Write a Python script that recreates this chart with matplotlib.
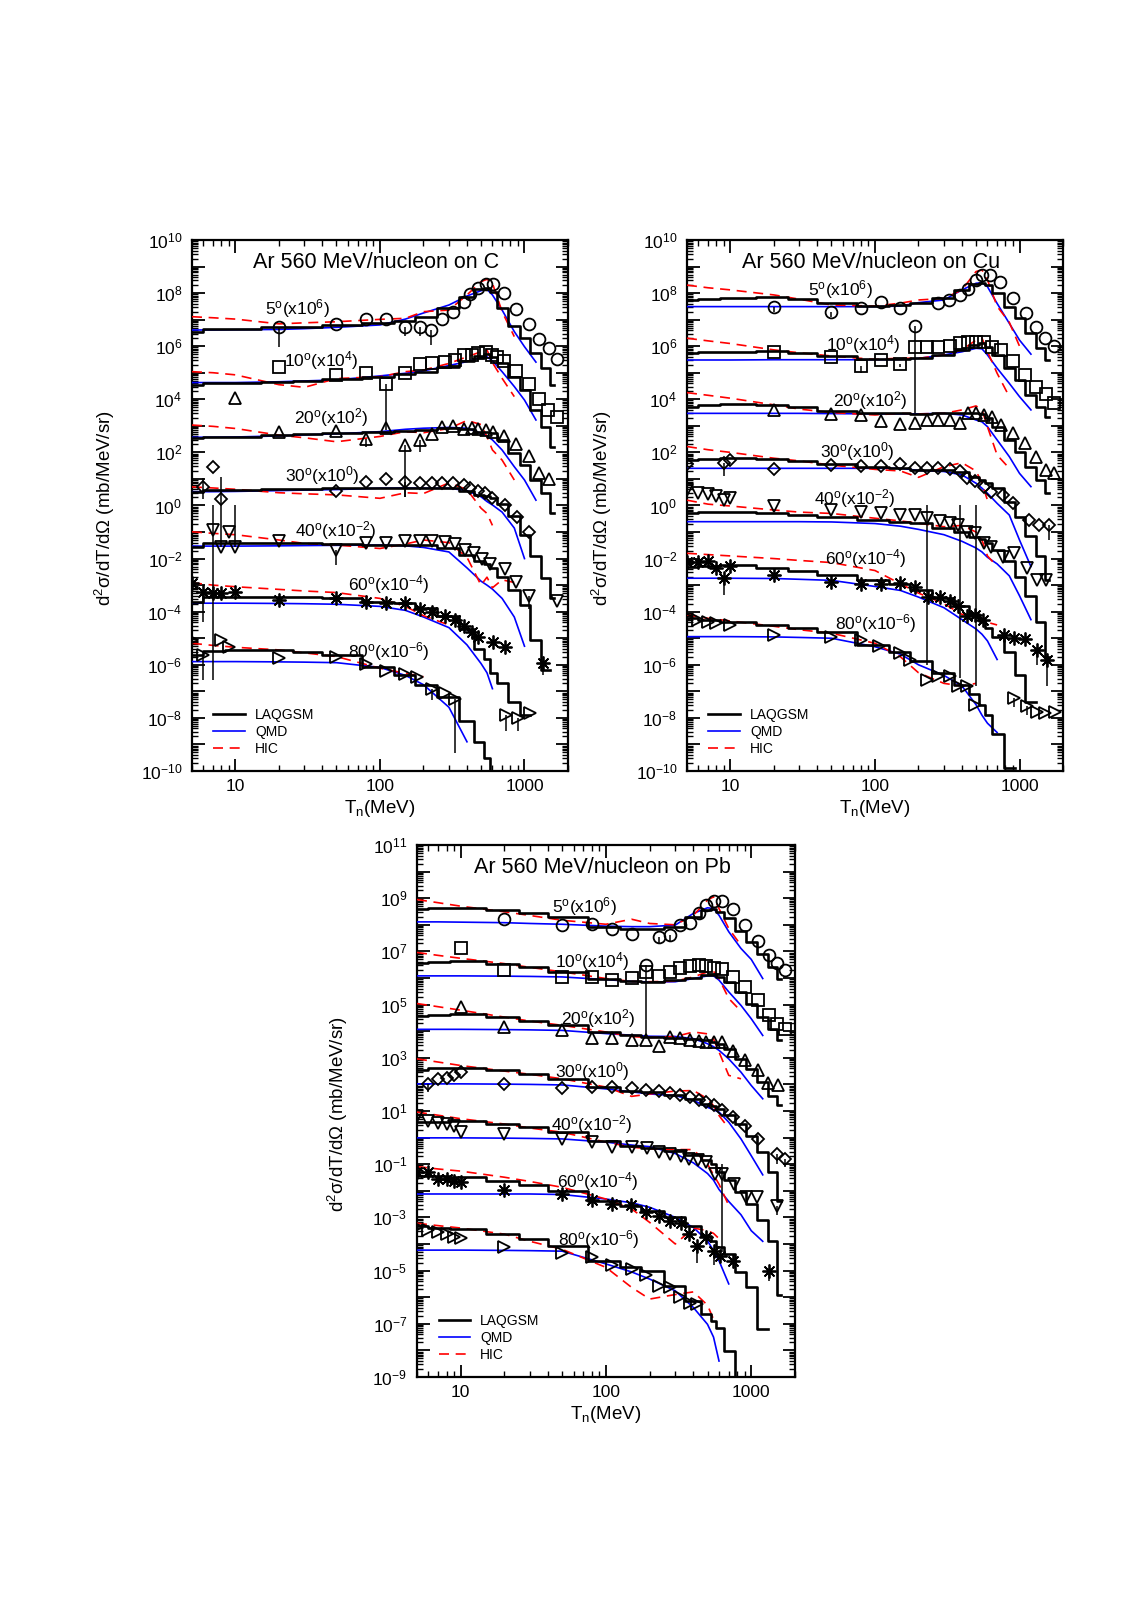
import numpy as np
import matplotlib
matplotlib.use('Agg')
import matplotlib.pyplot as plt
from matplotlib.ticker import FixedLocator, FuncFormatter, NullFormatter
from matplotlib.lines import Line2D

plt.rcParams['font.family'] = ['Liberation Sans', 'DejaVu Sans']
plt.rcParams['mathtext.fontset'] = 'custom'
plt.rcParams['mathtext.rm'] = 'Liberation Sans'
plt.rcParams['mathtext.it'] = 'Liberation Sans:italic'
plt.rcParams['mathtext.bf'] = 'Liberation Sans:bold'

nan = np.nan

# neutron energy grid (MeV) of the model curves
T_GRID = [5, 7, 10, 20, 30, 50, 100, 150, 200, 300, 400, 500, 550, 600, 700, 850, 1000, 1200, 1400, 1600]
ANGLES = [5, 10, 20, 30, 40, 60, 80]
FACTORS = [6, 4, 2, 0, -2, -4, -6]

# all cross sections are log10 of the scaled d2sigma/dT/dOmega,
# one row per angle (5, 10, 20, 30, 40, 60, 80 deg)

# ---- Ar + C ----
c_laq = [
    [6.55, 6.63, 6.65, 6.71, 6.74, 6.80, 6.89, 6.95, 7.09, 7.43, 7.87, 8.14, 8.20, 8.05, 7.43, 6.76, 6.30, 5.73, 5.17, 4.54],
    [4.54, 4.63, 4.63, 4.66, 4.70, 4.75, 4.85, 4.95, 5.04, 5.23, 5.45, 5.63, 5.69, 5.60, 5.35, 4.85, 4.35, 3.60, 2.97, 2.20],
    [2.53, 2.59, 2.59, 2.65, 2.68, 2.72, 2.75, 2.82, 2.84, 2.91, 2.87, 2.78, 2.75, 2.72, 2.47, 1.96, 1.53, 0.96, 0.46, -0.30],
    [0.52, 0.58, 0.58, 0.61, 0.63, 0.65, 0.65, 0.65, 0.65, 0.65, 0.56, 0.40, 0.35, 0.30, 0.05, -0.40, -1.10, -1.90, -2.75, -3.50],
    [-1.55, -1.43, -1.43, -1.40, -1.42, -1.45, -1.49, -1.49, -1.49, -1.61, -1.85, -2.10, -2.20, -2.37, -2.68, -3.18, -3.75, -5.07, -6.20, nan],
    [-3.62, -3.46, -3.43, -3.43, -3.46, -3.50, -3.62, -3.68, -3.87, -4.18, -4.65, -5.40, -5.80, -6.30, -6.70, -7.40, -7.90, nan, nan, nan],
    [-5.63, -5.47, -5.44, -5.46, -5.52, -5.63, -6.07, -6.38, -6.76, -7.20, -8.10, -8.90, -9.50, -10.0, nan, nan, nan, nan, nan, nan],
]
c_qmd = [
    [6.61, 6.61, 6.62, 6.63, 6.66, 6.71, 6.80, 7.02, 7.25, 7.55, 7.89, 8.09, 8.14, 7.93, 7.36, 6.55, 5.98, 5.40, nan, nan],
    [4.63, 4.63, 4.63, 4.66, 4.69, 4.73, 4.88, 4.98, 5.07, 5.27, 5.42, 5.58, 5.60, 5.45, 5.04, 4.48, 3.97, 3.22, nan, nan],
    [2.57, 2.57, 2.58, 2.62, 2.66, 2.70, 2.78, 2.87, 2.91, 2.94, 2.91, 2.72, 2.62, 2.47, 2.09, 1.46, 0.96, 0.20, nan, nan],
    [0.52, 0.52, 0.53, 0.56, 0.58, 0.60, 0.65, 0.66, 0.65, 0.65, 0.56, 0.33, 0.15, 0.02, -0.25, -0.85, -2.00, nan, nan, nan],
    [-1.53, -1.53, -1.53, -1.52, -1.51, -1.50, -1.49, -1.52, -1.58, -1.75, -2.35, -2.85, -3.00, -3.15, -3.50, -4.20, -5.30, nan, nan, nan],
    [-3.68, -3.68, -3.68, -3.69, -3.70, -3.72, -3.80, -3.95, -4.20, -4.60, -5.25, -5.95, -6.30, -6.90, nan, nan, nan, nan, nan, nan],
    [-5.88, -5.88, -5.88, -5.89, -5.90, -5.92, -6.10, -6.40, -6.75, -7.60, -8.90, nan, nan, nan, nan, nan, nan, nan, nan, nan],
]
c_hic = [
    [7.11, 7.07, 7.02, 6.84, 6.88, 6.92, 7.01, 7.05, 7.30, 7.36, 7.93, 8.43, 8.52, 8.37, 7.30, 6.36, nan, nan, nan, nan],
    [5.04, 5.00, 4.92, 4.55, 4.45, 4.78, 4.85, 5.04, 5.10, 5.35, 5.60, 5.79, 5.86, 5.38, 4.79, 4.10, nan, nan, nan, nan],
    [3.03, 2.98, 2.90, 2.65, 2.55, 2.40, 2.60, 2.78, 2.74, 2.90, 3.20, 3.05, 2.59, 2.09, 1.71, 0.96, nan, nan, nan, nan],
    [0.70, 0.66, 0.61, 0.48, 0.44, 0.40, 0.27, 0.48, 0.45, 0.85, 0.60, -0.10, -0.30, -0.75, nan, nan, nan, nan, nan, nan],
    [-0.99, -1.05, -1.10, -1.30, -1.43, -1.49, -1.62, -1.45, -1.30, -1.40, -1.95, -3.00, -2.70, -3.10, -2.80, -2.90, nan, nan, nan, nan],
    [-2.91, -3.00, -3.06, -3.16, -3.22, -3.28, -3.50, -3.80, -4.15, -4.50, nan, nan, nan, nan, nan, nan, nan, nan, nan, nan],
    [-5.19, -5.27, -5.34, -5.44, -5.55, -5.69, -6.13, -6.32, -6.45, nan, nan, nan, nan, nan, nan, nan, nan, nan, nan, nan],
]
c_exp_t = [
    [20, 50, 80, 110, 150, 190, 225, 270, 320, 380, 420, 480, 540, 610, 720, 880, 1080, 1270, 1470, 1670],
    [20, 50, 80, 110, 150, 190, 230, 280, 330, 380, 430, 480, 540, 600, 650, 720, 880, 1080, 1270, 1450, 1670],
    [10, 20, 50, 80, 110, 150, 190, 230, 270, 320, 380, 430, 480, 540, 610, 720, 870, 1070, 1270, 1470],
    [6, 7, 8, 50, 80, 110, 150, 190, 230, 270, 320, 380, 420, 480, 530, 600, 730, 890, 1080],
    [7, 8, 9, 10, 20, 50, 80, 110, 150, 190, 230, 280, 330, 390, 450, 510, 580, 730, 880, 1080, 1670],
    [5, 6, 7, 8, 10, 20, 50, 80, 110, 150, 190, 230, 280, 330, 380, 430, 480, 610, 730, 1350],
    [5, 6, 8, 9, 20, 50, 80, 110, 150, 180, 230, 280, 330, 740, 905, 1100],
]
c_exp_v = [
    [6.73, 6.83, 7.04, 7.04, 6.71, 6.71, 6.61, 7.02, 7.28, 7.68, 7.95, 8.20, 8.34, 8.34, 8.00, 7.40, 6.82, 6.27, 5.94, 5.53],
    [5.23, 4.92, 5.00, 4.58, 5.00, 5.33, 5.35, 5.42, 5.49, 5.67, 5.67, 5.73, 5.79, 5.67, 5.60, 5.45, 5.08, 4.58, 4.01, 3.60, 3.35],
    [4.04, 2.78, 2.82, 2.49, 2.90, 2.28, 2.47, 2.70, 2.94, 3.00, 2.87, 2.90, 2.87, 2.84, 2.78, 2.62, 2.31, 1.86, 1.21, 0.98],
    [0.71, 1.44, 0.26, 0.56, 0.90, 0.99, 0.90, 0.84, 0.84, 0.86, 0.84, 0.77, 0.65, 0.56, 0.46, 0.27, 0.02, -0.42, -1.01],
    [-0.92, -1.58, -1.00, -1.58, -1.33, -1.68, -1.40, -1.40, -1.33, -1.33, -1.35, -1.36, -1.44, -1.67, -1.80, -2.03, -2.20, -2.40, -2.90, -3.40, -3.60],
    [-2.91, -3.25, -3.31, -3.28, -3.25, -3.56, -3.50, -3.62, -3.66, -3.68, -3.91, -4.02, -4.18, -4.31, -4.53, -4.75, -4.94, -5.13, -5.32, -5.94],
    [-5.06, -5.63, -5.06, -5.34, -5.76, -5.69, -5.97, -6.22, -6.35, -6.47, -6.92, -7.08, -7.27, -7.90, -8.00, -7.80],
]
# error bars: energy, log10 low, log10 high
c_err = [(20, 5.98, 6.73), (150, 6.40, 6.71), (190, 6.40, 6.71), (225, 6.05, 6.61), (110, 2.84, 4.58),
         (80, 2.20, 2.49), (150, 0.33, 2.28), (190, 2.00, 2.47), (6, 0.25, 1.05), (7, -6.57, 0.02),
         (8, -1.55, 1.09), (10, -1.55, 0.02), (150, 0.33, 0.90), (50, -2.24, -1.68), (1080, -3.90, -3.40),
         (6, -4.38, -3.25), (1350, -6.38, -5.94), (6, -6.57, -5.63), (230, -7.33, -6.92), (330, -9.34, -7.27),
         (740, -8.50, -7.90), (905, -8.50, -8.00)]

# ---- Ar + Cu ----
cu_laq = [
    [7.74, 7.78, 7.80, 7.84, 7.78, 7.61, 7.51, 7.55, 7.62, 7.80, 8.12, 8.34, 8.39, 8.30, 7.99, 7.49, 7.05, 6.48, 5.92, 5.48],
    [5.73, 5.77, 5.79, 5.80, 5.76, 5.63, 5.50, 5.50, 5.54, 5.67, 5.86, 6.05, 6.11, 5.98, 5.67, 5.17, 4.73, 4.16, 3.72, 3.35],
    [3.72, 3.78, 3.81, 3.80, 3.72, 3.56, 3.47, 3.47, 3.45, 3.47, 3.50, 3.47, 3.45, 3.28, 2.97, 2.47, 2.03, 1.46, 0.96, 0.46],
    [1.71, 1.75, 1.78, 1.76, 1.68, 1.55, 1.46, 1.42, 1.34, 1.34, 1.27, 1.09, 0.95, 0.84, 0.65, 0.14, -0.45, -1.15, -1.90, -2.80],
    [-0.30, -0.25, -0.23, -0.27, -0.36, -0.45, -0.55, -0.61, -0.67, -0.86, -1.00, -1.17, -1.28, -1.42, -1.68, -2.10, -2.70, -3.40, -4.40, -5.70],
    [-2.30, -2.27, -2.24, -2.35, -2.45, -2.60, -2.82, -2.95, -3.17, -3.50, -3.78, -4.10, -4.35, -4.60, -4.95, -5.50, -6.40, -7.40, nan, nan],
    [-4.25, -4.32, -4.38, -4.50, -4.60, -4.75, -5.25, -5.50, -5.85, -6.30, -6.75, -7.10, -7.50, -7.90, -8.60, -9.90, nan, nan, nan, nan],
]
cu_qmd = [
    [7.49, 7.49, 7.49, 7.49, 7.49, 7.49, 7.49, 7.51, 7.64, 7.74, 8.12, 8.37, 8.39, 8.24, 7.61, 6.86, 6.23, 5.70, nan, nan],
    [5.48, 5.48, 5.48, 5.49, 5.49, 5.49, 5.49, 5.50, 5.54, 5.67, 5.79, 5.92, 5.90, 5.67, 5.17, 4.60, 4.10, 3.60, nan, nan],
    [3.47, 3.47, 3.47, 3.47, 3.47, 3.46, 3.45, 3.45, 3.45, 3.47, 3.41, 3.22, 3.15, 2.97, 2.47, 1.84, 1.21, 0.71, nan, nan],
    [1.40, 1.40, 1.40, 1.40, 1.40, 1.40, 1.40, 1.40, 1.32, 1.28, 1.15, 0.84, 0.65, 0.46, 0.08, -0.36, -1.30, -2.30, nan, nan],
    [-0.61, -0.61, -0.61, -0.61, -0.61, -0.62, -0.68, -0.78, -0.90, -1.10, -1.35, -1.60, -1.75, -1.95, -2.20, -2.65, -3.40, -4.30, nan, nan],
    [-2.74, -2.74, -2.74, -2.75, -2.78, -2.82, -3.05, -3.20, -3.45, -3.85, -4.30, -4.65, -4.85, -5.10, -5.80, nan, nan, nan, nan, nan],
    [-4.94, -4.94, -4.94, -4.95, -4.97, -5.00, -5.32, -5.60, -6.00, -6.40, -6.80, -7.50, -7.90, -8.20, -8.55, nan, nan, nan, nan, nan],
]
cu_hic = [
    [8.30, 8.20, 8.12, 7.93, 7.77, 7.55, 7.51, 7.62, 7.74, 7.80, 8.12, 8.81, 8.87, 8.50, 7.50, 6.90, 6.00, nan, nan, nan],
    [6.30, 6.20, 6.10, 5.86, 5.75, 5.63, 5.50, 5.55, 5.54, 5.67, 5.86, 6.23, 6.30, 5.80, 4.98, 4.10, nan, nan, nan, nan],
    [4.25, 4.15, 4.04, 3.79, 3.63, 3.50, 3.41, 3.47, 3.45, 3.47, 3.60, 3.75, 3.60, 2.97, 1.90, 1.40, nan, nan, nan, nan],
    [2.22, 2.10, 2.00, 1.78, 1.68, 1.52, 1.36, 1.30, 1.06, 1.46, 1.61, 1.30, 0.85, 0.20, nan, nan, nan, nan, nan, nan],
    [0.20, 0.05, -0.02, -0.17, -0.25, -0.30, -0.48, -0.58, -0.67, -0.80, -0.75, -1.00, -1.30, -1.90, -2.30, nan, nan, nan, nan, nan],
    [-1.80, -1.85, -1.90, -2.00, -2.07, -2.15, -2.45, -2.95, -3.30, -3.70, -4.10, -4.20, -4.25, -4.40, -4.50, nan, nan, nan, nan, nan],
    [-4.12, -4.25, -4.35, -4.55, -4.68, -4.81, -5.19, -5.70, -6.30, -6.70, -6.80, -6.70, nan, nan, nan, nan, nan, nan, nan, nan],
]
cu_exp_t = [
    [20, 50, 80, 110, 150, 190, 275, 325, 385, 440, 500, 550, 625, 735, 900, 1110, 1310, 1500, 1720],
    [20, 50, 80, 110, 150, 190, 230, 275, 330, 385, 440, 500, 570, 650, 740, 900, 1100, 1310, 1530, 1740],
    [20, 50, 80, 110, 150, 190, 230, 275, 330, 385, 440, 500, 570, 650, 740, 900, 1100, 1310, 1530, 1740],
    [5, 9, 10, 20, 50, 80, 110, 150, 190, 230, 275, 330, 385, 435, 495, 565, 635, 770, 900, 1160, 1370, 1600],
    [5, 6, 7, 8, 9, 10, 20, 50, 80, 110, 150, 190, 230, 280, 330, 375, 430, 490, 570, 630, 770, 920, 1120, 1320, 1530],
    [5, 6, 7, 8, 9, 10, 20, 50, 80, 110, 148, 188, 232, 280, 330, 375, 430, 490, 560, 780, 920, 1100, 1320, 1550],
    [5, 6, 7, 8, 10, 20, 50, 80, 106, 148, 174, 228, 274, 330, 375, 430, 490, 920, 1120, 1320, 1500, 1750],
]
cu_exp_v = [
    [7.46, 7.28, 7.43, 7.65, 7.43, 6.76, 7.64, 7.74, 7.93, 8.14, 8.49, 8.68, 8.68, 8.43, 7.80, 7.26, 6.71, 6.30, 6.00],
    [5.79, 5.60, 5.25, 5.48, 5.33, 5.96, 5.96, 5.96, 6.00, 6.11, 6.15, 6.17, 6.15, 5.98, 5.86, 5.45, 4.92, 4.48, 4.19, 3.85],
    [3.60, 3.44, 3.39, 3.17, 3.06, 3.09, 3.22, 3.22, 3.22, 3.09, 3.47, 3.47, 3.41, 3.35, 3.03, 2.72, 2.37, 1.81, 1.34, 1.21],
    [1.56, 1.59, 1.71, 1.36, 1.52, 1.48, 1.50, 1.56, 1.40, 1.42, 1.40, 1.36, 1.28, 1.05, 0.92, 0.71, 0.52, 0.40, 0.10, -0.55, -0.73, -0.73],
    [0.58, 0.46, 0.43, 0.36, 0.20, 0.27, -0.02, -0.17, -0.23, -0.30, -0.34, -0.36, -0.48, -0.60, -0.67, -0.73, -1.01, -1.05, -1.42, -1.55, -1.93, -1.80, -2.37, -2.81, -2.81],
    [-2.12, -2.12, -2.10, -2.36, -2.74, -2.27, -2.61, -2.90, -2.95, -2.95, -2.93, -3.08, -3.43, -3.45, -3.61, -3.78, -4.18, -4.11, -4.30, -4.87, -5.00, -5.03, -5.44, -5.82],
    [-4.19, -4.30, -4.38, -4.44, -4.50, -4.88, -4.94, -5.06, -5.29, -5.56, -5.81, -6.56, -6.43, -6.43, -6.81, -6.81, -7.50, -7.26, -7.55, -7.76, -7.80, -7.76],
]
cu_err = [(20, 7.30, 7.46), (50, 7.10, 7.28), (190, 3.47, 6.76), (80, 5.00, 5.25), (150, 5.20, 5.33),
          (9, 1.10, 1.59), (230, -6.00, 0.00), (390, -6.50, 0.00), (500, -6.80, 0.00), (9, -3.36, -2.74),
          (1550, -6.80, -5.82), (1320, -6.00, -5.44), (920, -7.60, -7.26), (1120, -7.90, -7.55), (1600, -1.30, -0.73)]

# ---- Ar + Pb ----
pb_laq = [
    [8.59, 8.62, 8.65, 8.55, 8.45, 8.28, 7.92, 7.84, 7.84, 7.92, 8.30, 8.55, 8.61, 8.49, 8.24, 7.76, 7.36, 6.92, 6.42, 5.98],
    [6.57, 6.60, 6.64, 6.54, 6.42, 6.23, 5.98, 5.89, 5.85, 5.91, 6.00, 6.10, 6.12, 6.04, 5.85, 5.48, 5.04, 4.53, 4.09, 3.66],
    [4.57, 4.62, 4.66, 4.53, 4.40, 4.22, 3.97, 3.85, 3.78, 3.74, 3.72, 3.66, 3.60, 3.53, 3.32, 2.96, 2.59, 2.09, 1.58, 1.21],
    [2.56, 2.60, 2.63, 2.53, 2.40, 2.21, 1.92, 1.77, 1.71, 1.61, 1.46, 1.27, 1.18, 1.08, 0.85, 0.50, 0.05, -0.55, -1.30, -2.40],
    [0.58, 0.60, 0.62, 0.51, 0.38, 0.20, -0.11, -0.30, -0.38, -0.50, -0.65, -0.85, -1.00, -1.30, -1.60, -2.05, -2.50, -3.10, -3.90, -5.90],
    [-1.43, -1.46, -1.49, -1.62, -1.78, -2.00, -2.37, -2.56, -2.75, -3.00, -3.31, -3.69, -3.90, -4.13, -4.38, -5.05, -5.63, -7.20, nan, nan],
    [-3.31, -3.38, -3.44, -3.63, -3.80, -4.07, -4.63, -4.86, -5.01, -5.57, -6.14, -6.64, -6.90, -7.14, -8.02, -9.00, nan, nan, nan, nan],
]
pb_qmd = [
    [8.11, 8.11, 8.10, 8.08, 8.05, 8.02, 7.95, 7.93, 7.93, 7.99, 8.43, 8.64, 8.61, 8.36, 7.74, 7.11, 6.70, 5.98, nan, nan],
    [6.08, 6.08, 6.08, 6.07, 6.06, 6.04, 5.94, 5.87, 5.85, 5.86, 5.98, 6.08, 6.08, 5.92, 5.48, 4.97, 4.47, 3.84, nan, nan],
    [4.07, 4.07, 4.07, 4.06, 4.05, 4.03, 3.91, 3.85, 3.81, 3.80, 3.72, 3.53, 3.42, 3.28, 2.96, 2.46, 1.96, 1.46, nan, nan],
    [2.02, 2.02, 2.02, 2.01, 2.00, 1.98, 1.83, 1.72, 1.64, 1.58, 1.40, 1.14, 1.05, 0.96, 0.58, -0.05, -0.68, -1.40, nan, nan],
    [-0.01, -0.01, -0.01, -0.02, -0.03, -0.05, -0.17, -0.28, -0.34, -0.60, -0.95, -1.35, -1.60, -1.95, -2.40, -2.90, -3.50, -3.90, nan, nan],
    [-2.12, -2.12, -2.12, -2.12, -2.12, -2.14, -2.31, -2.45, -2.62, -3.00, -3.38, -3.88, -4.25, -4.63, -5.50, nan, nan, nan, nan, nan],
    [-4.23, -4.23, -4.23, -4.24, -4.25, -4.27, -4.75, -5.05, -5.32, -5.76, -6.39, -7.02, -7.50, -8.40, nan, nan, nan, nan, nan, nan],
]
pb_hic = [
    [8.95, 8.83, 8.70, 8.49, 8.35, 8.17, 8.02, 8.21, 8.05, 8.00, 8.36, 8.93, 9.05, 8.61, 7.86, 7.23, nan, nan, nan, nan],
    [6.96, 6.85, 6.74, 6.54, 6.40, 6.23, 5.98, 5.87, 5.86, 5.88, 6.04, 6.23, 6.25, 5.98, 5.23, 4.75, nan, nan, nan, nan],
    [5.04, 4.92, 4.79, 4.53, 4.38, 4.22, 3.97, 3.80, 3.76, 3.80, 3.97, 3.90, 3.70, 3.22, 2.34, 2.21, nan, nan, nan, nan],
    [2.96, 2.84, 2.71, 2.50, 2.38, 2.21, 1.90, 1.55, 1.64, 1.75, 1.77, 1.46, 1.20, 0.83, 0.35, nan, nan, nan, nan, nan],
    [0.96, 0.84, 0.71, 0.51, 0.36, 0.20, -0.17, -0.36, -0.42, -0.45, -0.45, -1.00, -1.40, -1.75, -2.55, nan, nan, nan, nan, nan],
    [-1.09, -1.18, -1.26, -1.49, -1.65, -1.87, -2.31, -2.68, -3.19, -4.00, -3.40, -3.50, -3.60, -3.80, nan, nan, nan, nan, nan, nan],
    [-3.22, -3.31, -3.40, -3.63, -3.90, -4.20, -4.88, -5.63, -6.07, -5.90, -5.80, -6.30, -6.83, nan, nan, nan, nan, nan, nan, nan],
]
pb_exp_t = [
    [20, 50, 80, 110, 150, 190, 230, 277, 324, 377, 435, 491, 552, 630, 750, 903, 1110, 1325, 1513, 1700],
    [10, 20, 50, 80, 110, 150, 190, 230, 277, 324, 377, 435, 491, 552, 630, 750, 903, 1110, 1325, 1513, 1700],
    [10, 20, 50, 80, 110, 150, 190, 230, 277, 324, 377, 435, 491, 552, 630, 750, 903, 1110, 1310, 1530],
    [6, 7, 8, 9, 10, 20, 50, 80, 110, 150, 190, 230, 277, 324, 377, 435, 491, 552, 630, 750, 903, 1110, 1513, 1700],
    [5, 6, 7, 8, 9, 10, 20, 50, 80, 110, 150, 191, 232, 277, 330, 375, 430, 490, 560, 630, 760, 915, 1100, 1510],
    [5, 6, 7, 8, 9, 10, 20, 50, 80, 110, 148, 188, 232, 277, 330, 375, 425, 490, 550, 614, 750, 1330],
    [5, 6, 7, 8, 9, 10, 20, 50, 80, 110, 150, 190, 230, 277, 324, 377, 420],
]
pb_exp_v = [
    [8.21, 7.99, 8.02, 7.84, 7.67, 6.48, 7.55, 7.61, 7.99, 8.05, 8.43, 8.74, 8.89, 8.89, 8.59, 7.99, 7.40, 6.88, 6.58, 6.29],
    [7.11, 6.30, 6.04, 6.04, 5.92, 6.00, 6.23, 6.07, 6.23, 6.38, 6.44, 6.48, 6.44, 6.38, 6.35, 6.04, 5.66, 5.19, 4.62, 4.26, 4.07],
    [4.91, 4.16, 4.06, 3.76, 3.76, 3.66, 3.66, 3.43, 3.80, 3.74, 3.66, 3.62, 3.60, 3.60, 3.60, 3.25, 2.90, 2.56, 2.06, 1.96],
    [2.02, 2.21, 2.25, 2.36, 2.46, 2.02, 1.87, 1.90, 1.92, 1.87, 1.80, 1.77, 1.67, 1.62, 1.52, 1.42, 1.33, 1.21, 1.02, 0.79, 0.45, -0.05, -0.62, -0.80],
    [0.83, 0.64, 0.54, 0.51, 0.45, 0.20, 0.14, -0.05, -0.17, -0.36, -0.36, -0.40, -0.55, -0.62, -0.68, -0.81, -0.84, -0.91, -1.38, -1.38, -1.75, -2.25, -2.25, -2.56],
    [-1.30, -1.30, -1.55, -1.55, -1.62, -1.68, -1.97, -2.12, -2.35, -2.48, -2.53, -2.81, -2.96, -3.12, -3.21, -3.63, -4.07, -3.73, -4.26, -4.45, -4.64, -5.00],
    [-3.37, -3.47, -3.56, -3.63, -3.73, -3.78, -4.10, -4.32, -4.48, -4.78, -4.94, -5.16, -5.57, -5.63, -6.01, -6.20, -6.26],
]
pb_err = [(230, 7.30, 7.55), (277, 7.35, 7.61), (190, 3.82, 6.48), (6, 1.70, 2.02), (1513, -1.00, -0.62),
          (1700, -1.10, -0.80), (1510, -2.90, -2.56), (630, -4.30, -1.00), (425, -4.70, -4.07),
          (550, -4.80, -4.26), (1330, -5.40, -5.00)]

# angle-label anchor points (energy, log10 value)
c_lab_t = [26.7, 39, 46, 40, 49.5, 115, 115]
c_lab_v = [7.4, 5.44, 3.33, 1.11, -0.96, -2.96, -5.52]
cu_lab_t = [58, 83, 93, 75, 72, 86, 102]
cu_lab_v = [8.12, 6.08, 3.94, 2.05, 0.28, -2.0, -4.46]
pb_lab_t = [71, 80, 89, 80, 80, 88, 90]
pb_lab_v = [8.7, 6.63, 4.48, 2.49, 0.49, -1.66, -3.84]

MARKERS = ['o', 's', '^', 'D', 'v', (8, 2, 0), '>']
MSIZES = [8.5, 8, 8.5, 6.5, 8.5, 10, 8.5]


def draw_panel(ax, laq, qmd, hic, exp_t, exp_v, err, lab_t, lab_v, target, ylo, yhi, ypos):
    for i in range(len(ANGLES)):
        ax.plot(T_GRID, 10.0 ** np.array(laq[i]), color='black', lw=1.9, drawstyle='steps-mid', zorder=4)
        ax.plot(T_GRID, 10.0 ** np.array(qmd[i]), color='#0000ff', lw=1.2, zorder=3)
        ax.plot(T_GRID, 10.0 ** np.array(hic[i]), color='#ff0000', lw=1.2, ls=(0, (6, 4)), zorder=3)
        ax.plot(exp_t[i], 10.0 ** np.array(exp_v[i]), ls='none', marker=MARKERS[i], ms=MSIZES[i],
                mfc='none', mec='black', mew=1.3, zorder=5)
        txt = r'%d$^{\rm o}$(x10$^{%d}$)' % (ANGLES[i], FACTORS[i])
        ax.text(lab_t[i], 10.0 ** lab_v[i], txt, fontsize=12.5, ha='center', va='center', zorder=6)
    for t, lo, hi in err:
        ax.vlines(t, 10.0 ** lo, 10.0 ** hi, color='black', lw=1.1, zorder=4)

    ax.set_xscale('log')
    ax.set_yscale('log')
    ax.set_xlim(5, 2000)
    ax.set_ylim(10.0 ** ylo, 10.0 ** yhi)

    ax.xaxis.set_major_locator(FixedLocator([10, 100, 1000]))
    ax.xaxis.set_major_formatter(FuncFormatter(lambda v, p: '%d' % v))
    ax.xaxis.set_minor_locator(FixedLocator([m * 10.0 ** k for k in range(0, 4) for m in range(2, 10)]))
    ax.xaxis.set_minor_formatter(NullFormatter())

    ax.yaxis.set_major_locator(FixedLocator([10.0 ** k for k in range(ylo, yhi + 1)]))
    ax.yaxis.set_minor_locator(FixedLocator([m * 10.0 ** k for k in range(ylo, yhi) for m in range(2, 10)]))
    ax.yaxis.set_minor_formatter(NullFormatter())

    def yfmt(v, p):
        k = int(round(np.log10(v)))
        return r'$10^{%d}$' % k if (k - ylo) % 2 == 0 else ''
    ax.yaxis.set_major_formatter(FuncFormatter(yfmt))

    ax.tick_params(which='both', direction='in', top=True, right=True, labelsize=12.5)
    ax.tick_params(which='major', length=9, width=1.3)
    ax.tick_params(which='minor', length=4.5, width=1.0)
    ax.tick_params(axis='y', pad=7)
    ax.tick_params(axis='x', pad=6)
    for s in ax.spines.values():
        s.set_linewidth(1.6)

    ax.text(0.49, 0.958, 'Ar 560 MeV/nucleon on ' + target, transform=ax.transAxes,
            ha='center', va='center', fontsize=15.5)
    ax.set_xlabel(r'T$_{\rm n}$(MeV)', fontsize=13.5, labelpad=3)
    ax.set_ylabel('d$^{2}$σ/dT/dΩ (mb/MeV/sr)', fontsize=13.5)
    ax.yaxis.set_label_coords(ypos, 0.495)

    handles = [Line2D([], [], color='black', lw=1.9),
               Line2D([], [], color='#0000ff', lw=1.2),
               Line2D([], [], color='#ff0000', lw=1.2, ls=(0, (6, 4)))]
    ax.legend(handles, ['LAQGSM', 'QMD', 'HIC'], loc='lower left', bbox_to_anchor=(0.035, 0.012),
              frameon=False, fontsize=10, handlelength=2.3, handletextpad=0.7,
              labelspacing=0.22, borderaxespad=0.2)


fig = plt.figure(figsize=(11.44, 16.16), dpi=100)
ax_c = fig.add_axes([0.1678, 0.5229, 0.3287, 0.3286])
ax_cu = fig.add_axes([0.6005, 0.5229, 0.3287, 0.3286])
ax_pb = fig.add_axes([0.3645, 0.1479, 0.3304, 0.3292])

draw_panel(ax_c, c_laq, c_qmd, c_hic, c_exp_t, c_exp_v, c_err, c_lab_t, c_lab_v, 'C', -10, 10, -0.2)
draw_panel(ax_cu, cu_laq, cu_qmd, cu_hic, cu_exp_t, cu_exp_v, cu_err, cu_lab_t, cu_lab_v, 'Cu', -10, 10, -0.194)
draw_panel(ax_pb, pb_laq, pb_qmd, pb_hic, pb_exp_t, pb_exp_v, pb_err, pb_lab_t, pb_lab_v, 'Pb', -9, 11, -0.177)

fig.savefig('out.png', dpi=100)
